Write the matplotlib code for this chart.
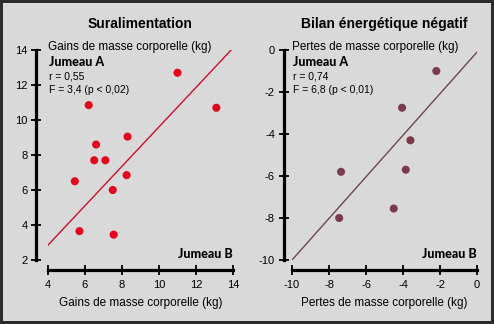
import matplotlib
matplotlib.use("Agg")
import matplotlib.pyplot as plt

plt.rcParams['font.family'] = ['Liberation Sans', 'DejaVu Sans']
plt.rcParams['axes.unicode_minus'] = False

# Suralimentation : gains de masse (jumeau B en x, jumeau A en y)
gain_b = [11.0, 13.1, 6.2, 8.3, 6.6, 6.5, 7.1, 5.45, 8.25, 7.5, 5.7, 7.55]
gain_a = [12.7, 10.7, 10.85, 9.05, 8.6, 7.7, 7.7, 6.5, 6.85, 6.0, 3.65, 3.45]
gain_fit_x = [4.0, 13.9]
gain_fit_y = [2.85, 14.0]

# Bilan energetique negatif : pertes de masse
perte_b = [-2.2, -4.05, -3.6, -7.35, -3.85, -4.5, -7.45]
perte_a = [-1.0, -2.75, -4.3, -5.8, -5.7, -7.55, -8.0]
perte_fit_x = [-10.0, 0.0]
perte_fit_y = [-10.0, -0.1]

titles = ["Suralimentation", "Bilan énergétique négatif"]
axis_labels = ["Gains de masse corporelle (kg)", "Pertes de masse corporelle (kg)"]
stats = [("r = 0,55", "F = 3,4 (p < 0,02)"), ("r = 0,74", "F = 6,8 (p < 0,01)")]

bg = "#d9d9d9"
fig = plt.figure(figsize=(4.94, 3.24), dpi=100, facecolor=bg,
                 edgecolor="#2b2b2b", linewidth=3)

ax1 = fig.add_axes([48 / 494, 64 / 324, 185 / 494, 210 / 324])
ax2 = fig.add_axes([292 / 494, 64 / 324, 185 / 494, 210 / 324])

panels = [
    (ax1, gain_b, gain_a, gain_fit_x, gain_fit_y, "#e3061e", "#c8102e",
     (4, 14), (2, 14), 8.5),
    (ax2, perte_b, perte_a, perte_fit_x, perte_fit_y, "#7a3c4c", "#6e4750",
     (-10, 0), (-10, 0), 6),
]

for i, (ax, xs, ys, fx, fy, dot, line, xl, yl, yoff) in enumerate(panels):
    ax.set_facecolor("none")
    ax.plot(fx, fy, color=line, lw=1.0, zorder=2)
    ax.scatter(xs, ys, s=34, color=dot, edgecolors="none", zorder=3)
    ax.set_xlim(*xl)
    ax.set_ylim(*yl)
    ax.set_xticks(range(xl[0], xl[1] + 1, 2))
    ax.set_yticks(range(yl[0], yl[1] + 1, 2))

    for side in ("top", "right"):
        ax.spines[side].set_visible(False)
    ax.spines["left"].set_position(("outward", yoff))
    ax.spines["bottom"].set_position(("outward", 7.2))
    ax.spines["left"].set_linewidth(2.3)
    ax.spines["bottom"].set_linewidth(2.3)
    ax.tick_params(axis="both", direction="inout", length=6.5, width=1.3,
                   labelsize=8, colors="black")
    ax.tick_params(axis="y", pad=3)
    ax.tick_params(axis="x", pad=4)

    ax.text(0.5, 1.125, titles[i], transform=ax.transAxes, ha="center",
            va="center", fontsize=10, fontweight="bold")
    ax.text(0.0, 1.014, axis_labels[i], transform=ax.transAxes, ha="left",
            va="center", fontsize=8.5)
    ax.text(0.5, -0.205, axis_labels[i], transform=ax.transAxes,
            ha="center", va="center", fontsize=8.5)
    ax.text(0.005, 0.943, "Jumeau A", transform=ax.transAxes, ha="left",
            va="center", fontsize=9, family=["Lato", "DejaVu Sans"],
            fontweight="black")
    ax.text(0.005, 0.876, stats[i][0], transform=ax.transAxes, ha="left",
            va="center", fontsize=7.5)
    ax.text(0.005, 0.81, stats[i][1], transform=ax.transAxes, ha="left",
            va="center", fontsize=7.5)
    ax.text(1.0, 0.03, "Jumeau B", transform=ax.transAxes, ha="right",
            va="center", fontsize=9, family=["Lato", "DejaVu Sans"],
            fontweight="black")

fig.savefig("out.png", dpi=100, facecolor=bg, edgecolor="#2b2b2b")
